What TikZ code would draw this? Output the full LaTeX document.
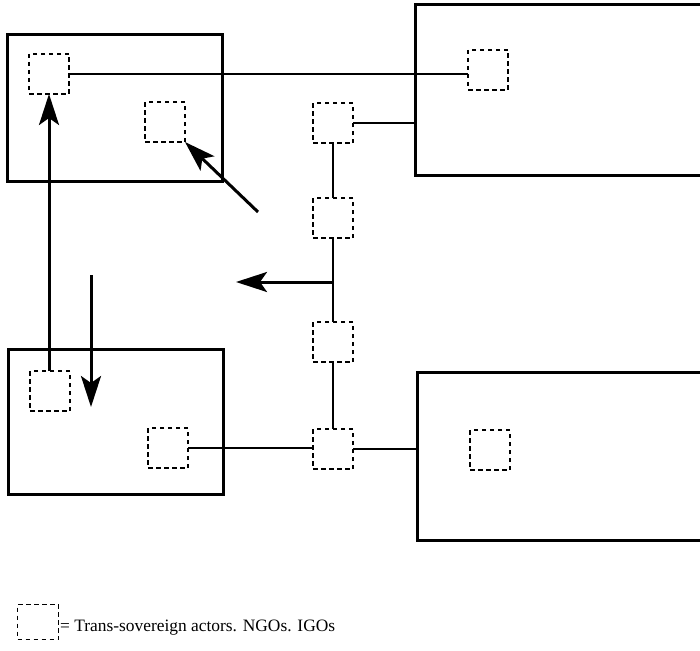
\documentclass[tikz,border=0pt]{standalone}
\usepackage{fontspec}
\setmainfont{Liberation Serif}
\usetikzlibrary{arrows.meta}
\begin{document}
\begin{tikzpicture}[x=1pt,y=-1pt,
 actor/.style={draw, dash pattern=on 4.5pt off 3.5pt, line width=1.7pt, minimum size=40pt, inner sep=0pt, outer sep=0pt},
 state/.style={draw, line width=3pt, inner sep=0pt, outer sep=0pt},
 link/.style={line width=2.8pt},
 flow/.style={line width=3pt, -{Stealth[length=31pt,width=20pt,inset=7pt]}}]
\useasboundingbox (0,0) rectangle (700,650);
\clip (0,0) rectangle (700,650);
% states
\node[state, minimum width=215pt, minimum height=146pt] (B1) at (114.5,108) {};
\node[state, minimum width=305pt, minimum height=170pt] (B2) at (567.5,90) {};
\node[state, minimum width=215pt, minimum height=145pt] (B3) at (115.5,421.5) {};
\node[state, minimum width=303pt, minimum height=168pt] (B4) at (568.5,456) {};
% actors
\node[actor] (A) at (49,74) {};
\node[actor] (B) at (165,122) {};
\node[actor] (T) at (488,70) {};
\node[actor] (S1) at (333,123) {};
\node[actor] (S2) at (333,218) {};
\node[actor] (S3) at (333,342) {};
\node[actor] (S4) at (333,449) {};
\node[actor] (C) at (50,391) {};
\node[actor] (D) at (168,448) {};
\node[actor] (R) at (490,450) {};
% links
\draw[link] (A.east) -- (A.east -| T.west);
\draw[link] (S1.east) -- (S1.east -| B2.west);
\draw[link] (S1.south) -- (S2.north);
\draw[link] (S2.south) -- (S3.north);
\draw[link] (S3.south) -- (S4.north);
\draw[link] (D.east) -- (D.east -| S4.west);
\draw[link] (S4.east) -- (S4.east -| B4.west);
% flows
\coordinate (j) at (333,282);
\coordinate (h) at (236,282);
\draw[flow] (j) -- (h);
\draw[flow] (C.north -| A.south) -- (A.south);
\coordinate (d0) at (91,275);
\coordinate (d1) at (91,407);
\draw[flow] (d0) -- (d1);
\coordinate (g0) at (258,212);
\draw[flow] (g0) -- (B.south east);
% legend
\node[actor, minimum width=41pt, minimum height=35pt] (L) at (38,622) {};
\node[anchor=base west, font=\fontsize{17.4}{20}\selectfont, inner sep=0pt] (Lt) at (60,631) {= Trans-sovereign actors. NGOs. IGOs};
\end{tikzpicture}
\end{document}
